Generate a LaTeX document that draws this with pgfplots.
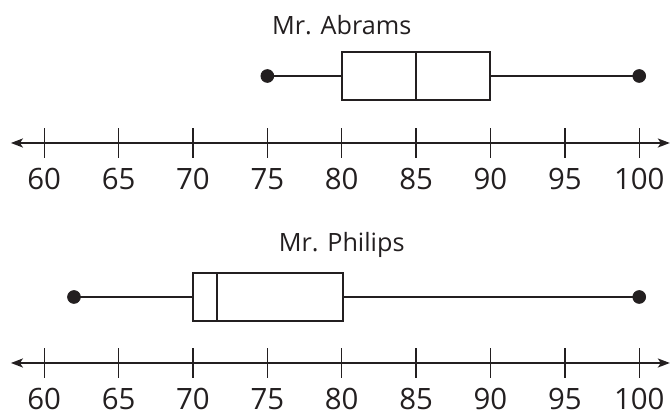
\documentclass[border=0pt]{standalone}
\usepackage{pgfplots}
\pgfplotsset{compat=1.18}
\usepgfplotslibrary{statistics}
\usetikzlibrary{arrows.meta}
\usepackage{fontspec}
\setmainfont{Open Sans}
\definecolor{ink}{HTML}{231F20}
\pgfplotsset{
  numline/.style={
    x=7.4375pt, y=0.5pt, xmin=57.76, xmax=102.06,
    axis x line*=bottom, axis y line=none,
    x axis line style={line width=1pt, ink, {Stealth[length=6pt,width=4.5pt,inset=1.5pt]}-{Stealth[length=6pt,width=4.5pt,inset=1.5pt]}},
    xtick={60,65,...,100}, tick align=center, major tick length=15pt,
    tick style={line width=0.7pt, ink},
    xticklabel style={font=\fontsize{14.7}{17}\selectfont, text=ink, inner sep=0pt, yshift=-5.1pt},
    /pgf/number format/assume math mode=true,
    clip=false,
  },
  bp/.style={ink, line width=1pt, solid},
}
\begin{document}
\begin{tikzpicture}
\path[use as bounding box] (-5.45pt,0pt) rectangle (330.05pt,-207.5pt);
\begin{axis}[numline, at={(0pt,0pt)}, anchor=north west, ymin=-143, ymax=0]
  \addplot[bp, boxplot prepared={lower whisker=75, lower quartile=80, median=85,
    upper quartile=90, upper whisker=100, draw position=-76, box extend=48,
    whisker extend=0, draw direction=x}] coordinates {};
  \addplot[only marks, mark=*, mark size=3.2pt, ink] coordinates {(75,-76) (100,-76)};
  \node[font=\fontsize{12.6}{15}\selectfont, text=ink] at (axis cs:80,-25) {Mr. Abrams};
\end{axis}
\begin{axis}[numline, at={(0pt,-110pt)}, anchor=north west, ymin=-363, ymax=-220]
  \addplot[bp, boxplot prepared={lower whisker=62, lower quartile=70, median=71.6,
    upper quartile=80.1, upper whisker=100, draw position=-297, box extend=48,
    whisker extend=0, draw direction=x}] coordinates {};
  \addplot[only marks, mark=*, mark size=3.2pt, ink] coordinates {(62,-297) (100,-297)};
  \node[font=\fontsize{12.6}{15}\selectfont, text=ink] at (axis cs:80,-245) {Mr. Philips};
\end{axis}
\end{tikzpicture}
\end{document}
